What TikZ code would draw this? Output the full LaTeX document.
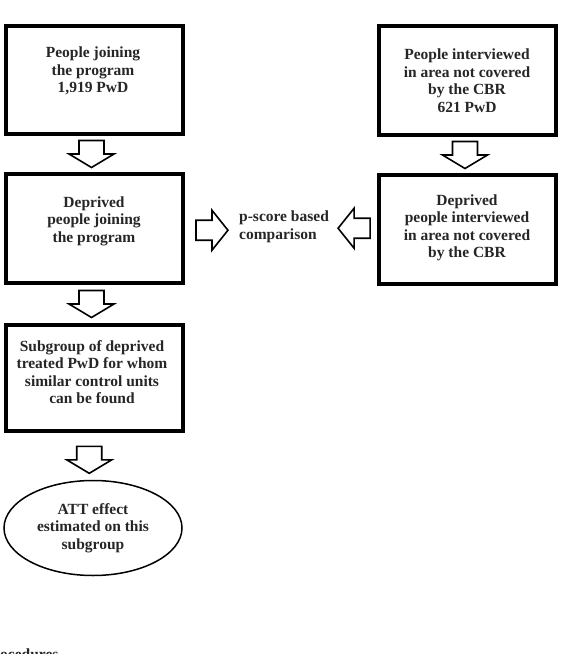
\documentclass[tikz,border=0pt]{standalone}
\usepackage{fontspec}
\setmainfont{Liberation Serif}
\usetikzlibrary{calc,shapes.geometric}
\begin{document}
\begin{tikzpicture}[x=1pt,y=-1pt,
  box/.style={draw=black, line width=3.8pt, fill=white, inner sep=0pt, minimum width=177pt},
  txt/.style={font=\fontsize{15.5}{17.5}\selectfont\bfseries, align=center, inner sep=0pt, text=black!85},
  blk/.style={draw=black, line width=1.6pt, fill=white, line join=miter},
  downblk/.pic={\draw[blk] (-12.5,-13.5) -- (12.5,-13.5) -- (12.5,0) -- (22.5,0) -- (0,13.5) -- (-22.5,0) -- (-12.5,0) -- cycle;},
  rightblk/.pic={\draw[blk] (-16,-10) -- (0,-10) -- (0,-20) -- (16,0) -- (0,20) -- (0,10) -- (-16,10) -- cycle;},
  leftblk/.pic={\draw[blk] (16,-10) -- (0,-10) -- (0,-20) -- (-16,0) -- (0,20) -- (0,10) -- (16,10) -- cycle;}
]
\useasboundingbox[fill=white] (0,0) rectangle (584,654);

% boxes
\node[box, minimum height=108pt] (b1) at (94.5,80) {};
\node[box, minimum height=109pt] (b2) at (94.5,228.5) {};
\node[box, minimum height=106pt] (b3) at (94.5,378) {};
\node[box, minimum height=109pt] (b4) at (467.5,80.5) {};
\node[box, minimum height=109pt] (b5) at (467.5,229.5) {};

% texts
\node[txt] (t1) at (93,71) {People joining\\the program\\1,919 PwD};
\node[txt] (t2) at (94,221) {Deprived\\people joining\\the program};
\node[txt] (t3) at (92,372) {Subgroup of deprived\\treated PwD for whom\\similar control units\\can be found};
\node[txt] (t4) at (467,80.5) {People interviewed\\in area not covered\\by the CBR\\621 PwD};
\node[txt] (t5) at (467,228) {Deprived\\people interviewed\\in area not covered\\by the CBR};
\node[txt, anchor=west, align=left] (tp) at (239,227) {p-score based\\comparison};

\node[txt, draw=black, ellipse, line width=1.5pt, minimum width=178pt, minimum height=95pt] (e) at (93,528) {ATT effect\\estimated on this\\subgroup};

\node[txt, anchor=base west] (tail) at (0,659) {ocedures};

% block arrows
\pic at ([xshift=-3pt]$(b1.south)!0.5!(b2.north)$) {downblk};
\pic at ([xshift=-3pt]$(b2.south)!0.5!(b3.north)$) {downblk};
\pic at ([xshift=-4.5pt,yshift=-3.5pt]$(b3.south)!0.5!(e.north)$) {downblk};
\pic at ([xshift=-2.5pt]$(b4.south)!0.5!(b5.north)$) {downblk};
\pic at ([yshift=-2.5pt]$(b2.east)!0.5!(tp.west)$) {rightblk};
\pic at ([xshift=1pt]$(tp.east)!0.5!(b5.west)$) {leftblk};
\end{tikzpicture}
\end{document}
